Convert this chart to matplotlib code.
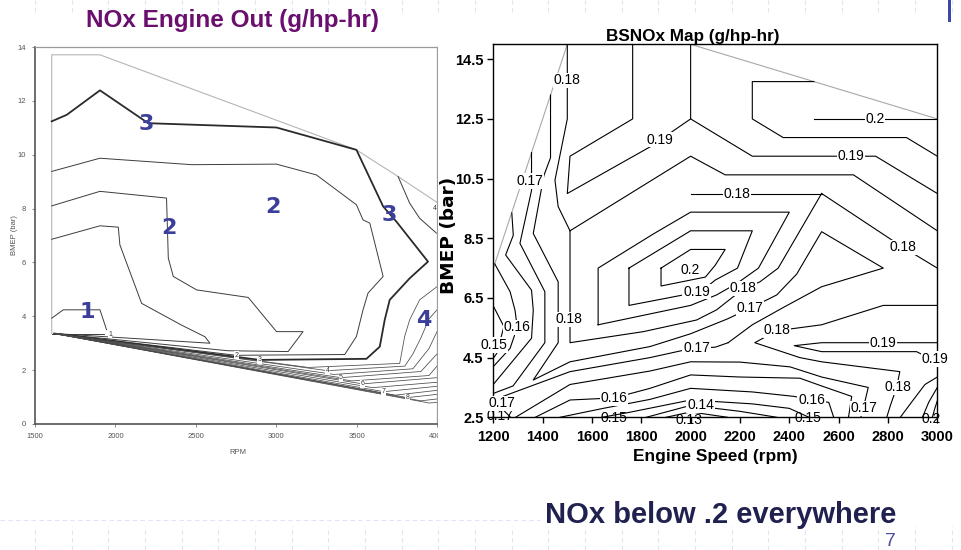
import matplotlib
matplotlib.use("Agg")
import matplotlib.pyplot as plt
from matplotlib import font_manager
from matplotlib.patches import Rectangle
from matplotlib.lines import Line2D

_avail = {f.name for f in font_manager.fontManager.ttflist}


def fams(*names):
    return [n for n in names if n in _avail] + ["DejaVu Sans"]


HAS_NARROW = "Liberation Sans Narrow" in _avail
NARROW = fams("Liberation Sans Narrow", "Liberation Sans")
ARIAL = fams("Liberation Sans")

# ------------------------------------------------------------------
# LEFT CHART  "NOx Engine Out (g/hp-hr)"   x = RPM, y = BMEP (bar)
# ------------------------------------------------------------------
left_xticks = [1500, 2000, 2500, 3000, 3500, 4000]
left_yticks = [0, 2, 4, 6, 8, 10, 12, 14]

left_boundary = [(1604, 3.37), (1604, 13.71), (1904, 13.71), (3499, 10.18), (3758, 9.19), (4000, 8.23)]
left_c1_a = [(1604, 3.93), (1676, 4.24), (1904, 4.24), (1945, 3.5)]
left_c1_b = [(1604, 3.36), (1930, 3.36)]
left_c15 = [(1604, 6.86), (1904, 7.36), (2018, 7.31), (2028, 6.65), (2163, 4.48), (2412, 3.67),
            (2557, 3.24), (2588, 3.0), (1620, 3.36)]
left_c2_in = [(1604, 8.10), (1904, 8.64), (2318, 8.39), (2329, 6.16), (2360, 5.48), (2505, 4.98),
              (2826, 4.70), (3002, 3.43), (3167, 3.43), (3074, 2.69), (2700, 2.72), (1620, 3.36)]
left_c2_out = [(1604, 9.38), (1904, 9.87), (2474, 9.63), (3002, 9.65), (3250, 9.25), (3499, 8.14),
               (3540, 7.58), (3582, 7.46), (3665, 5.48), (3571, 4.86), (3540, 4.24), (3499, 3.25),
               (3426, 2.58), (2920, 2.56), (2753, 2.55), (1620, 3.36)]
left_c3 = [(1604, 11.24), (1697, 11.48), (1904, 12.39), (2204, 11.17), (3002, 11.01), (3499, 10.18),
           (3665, 8.08), (3747, 7.52), (3944, 6.03), (3830, 5.41), (3706, 4.61), (3675, 3.87),
           (3644, 2.87), (3561, 2.42), (2898, 2.38), (1620, 3.36)]
left_c35 = [(3758, 9.19), (3830, 8.2), (3892, 7.64), (3996, 7.09)]
left_r1 = [(4000, 5.1), (3892, 4.61), (3830, 3.87), (3799, 3.25), (3768, 2.25), (3200, 2.1), (1620, 3.36)]
left_r2 = [(4000, 4.24), (3950, 3.9), (3900, 3.2), (3850, 2.6), (3800, 2.15), (3319, 1.98), (1620, 3.36)]
left_r3 = [(4000, 3.43), (3950, 2.8), (3850, 2.05), (3360, 1.84), (1620, 3.36)]
left_r4 = [(4000, 2.6), (3900, 1.95), (3402, 1.72), (1620, 3.36)]
left_r5 = [(4000, 2.15), (3950, 1.8), (3470, 1.6), (1620, 3.36)]
left_r6 = [(4000, 1.72), (3537, 1.49), (1620, 3.36)]
left_r7 = [(4000, 1.55), (3600, 1.35), (1620, 3.36)]
left_r8 = [(4000, 1.4), (3669, 1.2), (1620, 3.36)]
left_r9 = [(4000, 1.25), (3740, 1.07), (1620, 3.36)]
left_r10 = [(4000, 1.1), (3816, 0.98), (1620, 3.36)]
left_r11 = [(4000, 0.93), (3900, 0.86), (1620, 3.36)]
left_r12 = [(4000, 0.8), (3950, 0.78), (1620, 3.36)]

left_label_text = ["1", "2", "3", "4", "5", "6", "7", "8", "4"]
left_label_x = [1966, 2753, 2898, 3319, 3402, 3537, 3669, 3816, 3986]
left_label_y = [3.33, 2.55, 2.38, 1.98, 1.72, 1.49, 1.20, 0.98, 8.0]

region_text = ["3", "2", "2", "1", "3", "4"]
region_x = [2190, 2980, 2333, 1823, 3701, 3919]
region_y = [11.14, 8.06, 7.28, 4.16, 7.76, 3.86]

# ------------------------------------------------------------------
# RIGHT CHART  "BSNOx Map (g/hp-hr)"  x = Engine Speed (rpm), y = BMEP (bar)
# ------------------------------------------------------------------
bs_xticks = [1200, 1400, 1600, 1800, 2000, 2200, 2400, 2600, 2800, 3000]
bs_yticks = [2.5, 4.5, 6.5, 8.5, 10.5, 12.5, 14.5]

bs_gray_left = [(1200, 7.49), (1500, 15.0)]
bs_gray_right = [(2000, 15.0), (2500, 13.75), (3000, 12.5)]

bs_t1 = [(1500, 15.0), (1500, 12.5), (1450, 10.45), (1463, 9.56), (1511, 8.75)]
bs_t2 = [(1511, 8.75), (2000, 11.25), (2140, 10.625), (2660, 10.625), (3000, 8.75)]
bs_t3 = [(1765, 15.0), (1765, 12.5), (1511, 11.25), (1500, 10.0), (1835, 11.56), (2000, 12.5), (2000, 15.0)]
bs_t4 = [(2000, 12.5), (2250, 11.25), (2750, 11.25), (3000, 10.0)]
bs_t5 = [(2500, 13.75), (2250, 13.75), (2250, 12.5), (2375, 11.875), (2875, 11.875), (3000, 11.25)]
bs_t6 = [(2500, 12.5), (3000, 12.5)]
bs_h018 = [(2000, 10.0), (2531, 10.0)]
bs_r018 = [(2531, 10.0), (2860, 8.2), (3000, 7.5)]
bs_l018 = [(2531, 10.0), (2355, 7.5), (2281, 7.04), (2213, 6.8), (2105, 6.1), (2024, 5.76),
           (1808, 5.37), (1511, 5.0), (1511, 8.75)]
bs_l0185 = [(1625, 5.6), (1625, 7.5), (1850, 8.65), (2000, 9.375), (2400, 9.375), (2275, 7.5),
            (2190, 7.0), (2105, 6.6), (2000, 6.25), (1625, 5.6)]
bs_l019 = [(1750, 7.5), (2000, 8.75), (2250, 8.75), (2190, 7.5), (2100, 7.1), (2040, 6.7),
           (1970, 6.6), (1750, 6.25), (1750, 7.5)]
bs_l020 = [(1880, 7.5), (2000, 8.125), (2140, 8.125), (2100, 7.6), (2060, 7.2), (1880, 6.9), (1880, 7.5)]

bs_c015 = [(1200, 6.23), (1243, 5.54), (1214, 4.64), (1200, 4.48)]
bs_c016 = [(1206, 7.64), (1268, 6.71), (1288, 6.09), (1297, 5.51), (1268, 4.81), (1200, 4.2)]
bs_c0165 = [(1275, 9.35), (1281, 8.6), (1250, 7.94), (1355, 6.76), (1362, 6.09), (1355, 5.15), (1200, 3.6)]
bs_ca = [(1355, 11.37), (1355, 10.1), (1308, 8.33), (1409, 6.71), (1409, 5.0), (1280, 3.55), (1200, 3.3)]
bs_cb = [(1432, 13.3), (1432, 11.2), (1405, 10.6), (1362, 8.66), (1463, 7.04), (1463, 5.0), (1362, 3.75),
         (1511, 4.36), (1835, 4.87), (2000, 5.3), (2150, 5.8), (2240, 6.15), (2349, 6.6), (2430, 7.3),
         (2531, 8.72), (2781, 7.5), (2531, 6.875), (2380, 6.2), (2250, 5.6), (2152, 5.0)]
bs_bl0 = [(1200, 2.9), (1240, 2.75), (1270, 2.5)]
bs_bl1 = [(1200, 3.08), (1511, 4.03), (1835, 4.5), (2000, 4.8), (2100, 4.85), (2152, 5.0)]
bs_bl2 = [(1290, 2.5), (1511, 3.6), (1835, 4.05), (2000, 4.36), (2200, 4.35), (2403, 4.19), (2531, 3.85),
          (2720, 3.5), (2700, 2.8), (2690, 2.5)]
bs_bl3 = [(1370, 2.5), (1511, 3.08), (1690, 3.15), (1835, 3.47), (2000, 3.92), (2200, 3.85), (2443, 3.81),
          (2531, 3.55), (2653, 3.2), (2640, 2.5)]
bs_bl35 = [(1470, 2.5), (1646, 2.8), (1835, 3.1), (2000, 3.47), (2250, 3.35), (2420, 3.2), (2490, 3.08),
           (2560, 3.0), (2580, 2.5)]
bs_bl4 = [(1640, 2.5), (1748, 2.66), (2000, 3.08), (2250, 2.95), (2400, 2.8), (2480, 2.5)]
bs_bv14 = [(1820, 2.5), (2000, 2.9), (2200, 2.7), (2350, 2.5)]
bs_bv135 = [(1900, 2.5), (2000, 2.68), (2150, 2.5)]
bs_rb18 = [(3000, 6.25), (2781, 6.25), (2531, 5.6), (2349, 5.4), (2260, 5.0), (2443, 4.5), (2531, 4.36),
           (2848, 4.03), (2835, 3.5), (2810, 2.9), (2795, 2.5)]
bs_rb19 = [(3000, 5.0), (2531, 5.0), (2420, 4.9), (2531, 4.7), (2916, 4.7), (2975, 4.45), (3000, 4.2)]
bs_d1 = [(2850, 2.5), (2895, 3.0), (2950, 3.6), (3000, 3.85)]
bs_d2 = [(2940, 2.5), (2965, 3.0), (3000, 3.5)]
bs_d3 = [(2980, 2.5), (2990, 2.8), (3000, 3.05)]

bs_label_text = ["0.18", "0.19", "0.19", "0.2", "0.17", "0.18", "0.18", "0.2", "0.19", "0.18",
                 "0.17", "0.18", "0.16", "0.15", "0.18", "0.19", "0.19", "0.17", "0.18", "0.16",
                 "0.17", "0.16", "0.14", "0.17"]
bs_label_x = [1500, 1876, 2649, 2747, 1347, 2187, 2860, 1997, 2024, 2213,
              2240, 1505, 1297, 1203, 2349, 2781, 2990, 2024, 2840, 1690,
              1236, 2490, 2040, 2702]
bs_label_y = [13.79, 11.8, 11.25, 12.5, 10.42, 10.0, 8.2, 7.45, 6.71, 6.82,
              6.15, 5.78, 5.51, 4.92, 5.42, 5.0, 4.45, 4.81, 3.5, 3.15,
              2.97, 3.08, 2.9, 2.8]
bs_edge_text = ["0.17", "0.15", "0.13", "0.15", "0.2"]
bs_edge_x = [1228, 1690, 1992, 2477, 2975]
bs_edge_y = [2.55, 2.47, 2.42, 2.47, 2.45]

# ------------------------------------------------------------------
W, H = 962, 550
fig = plt.figure(figsize=(W / 100, H / 100), dpi=100)
fig.patch.set_facecolor("white")

# faint slide grid decoration
grid_kw = dict(transform=fig.transFigure, color="#dfe5f6", lw=0.8, ls=(0, (4, 3)), zorder=-5)
for k in range(-14, 13):
    xpix = 511.7 + 36.67 * k
    if 0 <= xpix <= W:
        fig.add_artist(Line2D([xpix / W, xpix / W], [0, 24 / H], **grid_kw))
        fig.add_artist(Line2D([xpix / W, xpix / W], [1 - 12 / H, 1], **grid_kw))
fig.add_artist(Line2D([0, 540 / W], [1 - 520 / H, 1 - 520 / H], **grid_kw))
fig.add_artist(Rectangle((948 / W, 1 - 22 / H), 3 / W, 22 / H, transform=fig.transFigure,
                         fc="#3b48a6", ec="none", zorder=5))


def draw(ax, pts, **kw):
    ax.plot([p[0] for p in pts], [p[1] for p in pts], **kw)


# ---------------- left axes ----------------
axL = fig.add_axes([35 / W, 1 - 424 / H, 402 / W, 377 / H], zorder=0)
axL.set_xlim(1500, 4000)
axL.set_ylim(0, 14)
axL.set_xticks(left_xticks)
axL.set_xticklabels([str(v) for v in left_xticks], fontsize=5.5, color="#555555", family=ARIAL)
axL.set_yticks(left_yticks)
axL.set_yticklabels([str(v) for v in left_yticks], fontsize=5.5, color="#555555", family=ARIAL)
axL.tick_params(direction="out", length=2.5, width=0.6, color="#777777", pad=4)
for side in ["left", "bottom"]:
    axL.spines[side].set_color("#555555")
    axL.spines[side].set_linewidth(1.2)
for side in ["top", "right"]:
    axL.spines[side].set_color("#9a9a9a")
    axL.spines[side].set_linewidth(0.9)

draw(axL, left_boundary, color="#b5b5b5", lw=0.8)
thin = dict(color="#3c3c3c", lw=0.7)
for pts in [left_c1_a, left_c1_b, left_c15, left_c2_in, left_c2_out, left_c35]:
    draw(axL, pts, **thin)
draw(axL, left_c3, color="#2a2a2a", lw=1.3)
band = dict(color="#4a4a4a", lw=0.55)
for pts in [left_r1, left_r2, left_r3, left_r4, left_r5, left_r6, left_r7, left_r8,
            left_r9, left_r10, left_r11, left_r12]:
    draw(axL, pts, **band)
for s, x, y in zip(left_label_text, left_label_x, left_label_y):
    axL.text(x, y, s, fontsize=5, ha="center", va="center", color="#333333", family=ARIAL,
             bbox=dict(boxstyle="square,pad=0.05", fc="white", ec="none"), zorder=4)
for s, x, y in zip(region_text, region_x, region_y):
    axL.text(x, y, s, fontsize=16, ha="center", va="center", color="#3b3f99",
             fontweight="bold", family=["DejaVu Sans"], zorder=5)

fig.text(15 / W, 1 - 235 / H, "BMEP (bar)", rotation=90, ha="center", va="center",
         fontsize=5.5, color="#555555", family=ARIAL)
fig.text(238 / W, 1 - 453 / H, "RPM", ha="center", va="center", fontsize=5.5,
         color="#555555", family=ARIAL)

# cover for the right picture
fig.add_artist(Rectangle((438 / W, 1 - 470 / H), (W - 438) / W, 450 / H,
                         transform=fig.transFigure, fc="white", ec="none", zorder=1))

# ---------------- right axes ----------------
axR = fig.add_axes([493.3 / W, 1 - 417.3 / H, 444 / W, 373 / H], zorder=2)
axR.set_xlim(1200, 3000)
axR.set_ylim(2.5, 15)
axR.set_xticks(bs_xticks)
axR.set_xticklabels([str(v) for v in bs_xticks], fontsize=10.5, fontweight="bold", family=ARIAL)
axR.set_yticks(bs_yticks)
axR.set_yticklabels([str(v) for v in bs_yticks], fontsize=10.5, fontweight="bold", family=ARIAL)
axR.tick_params(direction="out", length=4, width=1, pad=3)
axR.tick_params(axis="x", pad=5)
for sp in axR.spines.values():
    sp.set_linewidth(1.0)
    sp.set_color("black")

draw(axR, bs_gray_left, color="#a8a8a8", lw=0.8)
draw(axR, bs_gray_right, color="#a8a8a8", lw=0.8)
ln = dict(color="black", lw=0.8)
for pts in [bs_t1, bs_t2, bs_t3, bs_t4, bs_t5, bs_t6, bs_h018, bs_r018, bs_l018, bs_l0185,
            bs_l019, bs_l020, bs_c015, bs_c016, bs_c0165, bs_ca, bs_cb, bs_bl0, bs_bl1, bs_bl2,
            bs_bl3, bs_bl35, bs_bl4, bs_bv14, bs_bv135, bs_rb18, bs_rb19, bs_d1, bs_d2, bs_d3]:
    draw(axR, pts, **ln)

lab_fs = 11 if HAS_NARROW else 10
for s, x, y in zip(bs_edge_text, bs_edge_x, bs_edge_y):
    axR.text(x, y, s, fontsize=lab_fs, ha="center", va="center", family=NARROW,
             zorder=3.5, clip_on=False)
for s, x, y in zip(bs_label_text, bs_label_x, bs_label_y):
    axR.text(x, y, s, fontsize=lab_fs, ha="center", va="center", family=NARROW,
             bbox=dict(boxstyle="square,pad=0.05", fc="white", ec="none"), zorder=4, clip_on=False)

fig.text(693 / W, 1 - 36 / H, "BSNOx Map (g/hp-hr)", ha="center", va="center",
         fontsize=12.3, fontweight="bold", family=ARIAL)
fig.text(715 / W, 1 - 457 / H, "Engine Speed (rpm)", ha="center", va="center",
         fontsize=12.5, fontweight="bold", family=ARIAL)
fig.text(449 / W, 1 - 235 / H, "BMEP (bar)", rotation=90, ha="center", va="center",
         fontsize=13.3, fontweight="bold", family=["DejaVu Sans"])

# ---------------- slide texts ----------------
fig.text(232.5 / W, 1 - 21 / H, "NOx Engine Out (g/hp-hr)", ha="center", va="center",
         fontsize=17.5, fontweight="bold", color="#6a0f6e", family=ARIAL)
fig.text(545 / W, 1 - 515 / H, "NOx below .2 everywhere", ha="left", va="center",
         fontsize=21, fontweight="bold", color="#20214f", family=ARIAL)
fig.text(890 / W, 1 - 541 / H, "7", ha="center", va="center", fontsize=14,
         color="#4f50a3", family=ARIAL)

fig.savefig("out.png", dpi=100, facecolor="white")
